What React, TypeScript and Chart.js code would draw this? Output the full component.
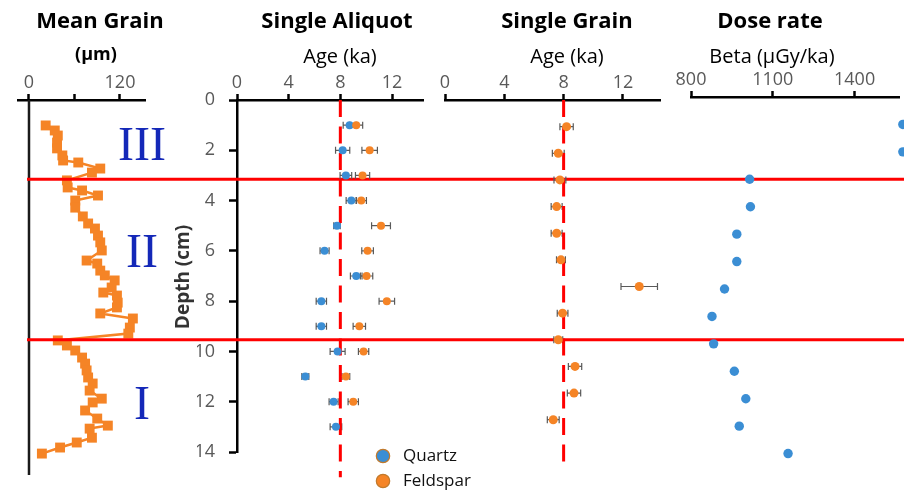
import React, { useEffect, useRef } from 'react';
import { Chart, registerables } from 'chart.js';

Chart.register(...registerables);

const FONT = '"Open Sans", Lato, "DejaVu Sans", sans-serif';
const SERIF = '"Liberation Serif", "DejaVu Serif", serif';
const CANVAS_W = 904;
const CANVAS_H = 494;

const BLUE = '#3B8ED4';
const ORANGE = '#F58426';
const RED = '#FF0000';
const ROMAN_BLUE = '#1428B8';
const TICK_GRAY = '#595959';
const ERR_GRAY = '#5A5A5A';

// ---- Mean grain (µm) vs depth (cm)
const MG_DEPTH = [1.01, 1.21, 1.41, 1.69, 1.92, 2.2, 2.4, 2.48, 2.72, 2.88, 3.19, 3.47, 3.59, 3.79, 3.99, 4.27, 4.62, 4.9, 5.1, 5.38, 5.65, 5.97, 6.37, 6.49, 6.77, 6.96, 7.16, 7.44, 7.64, 7.76, 8.04, 8.23, 8.47, 8.67, 9.03, 9.27, 9.54, 9.74, 9.94, 10.22, 10.46, 10.73, 11.01, 11.25, 11.53, 11.85, 12.0, 12.32, 12.64, 12.92, 13.04, 13.4, 13.59, 13.79, 14.03];
const MG_SIZE = [22, 34, 38, 37, 37, 44, 45, 65, 94, 83, 50, 51, 70, 91, 61, 61, 71, 78, 87, 91, 94, 96, 76, 90, 94, 100, 113, 109, 98, 116, 117, 116, 94, 137, 133, 131, 38, 50, 61, 70, 74, 76, 78, 84, 80, 96, 84, 74, 90, 104, 80, 83, 63, 41, 17];
const MG_TICKS = [0, 60, 120];
const MG_TICK_LABELS = ['0', '', '120'];

// ---- Single aliquot ages (ka)
const SA_QUARTZ_DEPTH = [1, 2, 3, 4, 5, 6, 7, 8, 9, 10, 11, 12, 13];
const SA_QUARTZ = [8.72, 8.18, 8.43, 8.85, 7.74, 6.78, 9.23, 6.53, 6.53, 7.79, 5.29, 7.48, 7.66];
const SA_QUARTZ_ERR = [0.5, 0.55, 0.45, 0.4, 0.25, 0.35, 0.45, 0.4, 0.4, 0.58, 0.27, 0.35, 0.45];
const SA_FELDSPAR_DEPTH = [1, 2, 3, 4, 5, 6, 7, 8, 9, 10, 11, 12];
const SA_FELDSPAR = [9.23, 10.27, 9.72, 9.62, 11.15, 10.11, 10.03, 11.6, 9.47, 9.8, 8.43, 9.0];
const SA_FELDSPAR_ERR = [0.5, 0.6, 0.55, 0.4, 0.73, 0.45, 0.48, 0.6, 0.48, 0.4, 0.3, 0.4];

// ---- Single grain ages (ka)
const SG_FELDSPAR_DEPTH = [1, 2, 3, 4, 5, 6, 7, 8, 9, 10, 11, 12];
const SG_FELDSPAR = [8.2, 7.64, 7.75, 7.53, 7.53, 7.82, 13.1, 7.93, 7.64, 8.77, 8.7, 7.3];
const SG_FELDSPAR_ERR = [0.45, 0.4, 0.4, 0.37, 0.37, 0.3, 1.23, 0.36, 0.3, 0.45, 0.45, 0.4];

// ---- Beta dose rate (µGy/ka)
const DR_DEPTH = [1, 2, 3, 4, 5, 6, 7, 8, 9, 10, 11, 12, 13];
const DR_BETA = [1577, 1577, 1015, 1018, 968, 968, 923, 877, 883, 959, 1001, 977, 1156];
const DR_TICKS = [800, 1100, 1400];
const DR_TICK_LABELS = ['800', '1100', '1400'];

const AGE_TICKS = [0, 4, 8, 12];
const AGE_TICK_LABELS = ['0', '4', '8', '12'];
const DEPTH_TICKS = [0, 2, 4, 6, 8, 10, 12, 14];

const REF_AGE = 8;
const REF_LINE_SA = [0, 15];
const REF_LINE_SG = [0, 13.8];
const UNIT_BOUNDARIES = [3.15, 9.54];
const UNIT_LABELS = ['III', 'II', 'I'];
const SERIES_NAMES = ['Quartz', 'Feldspar'];
const SERIES_COLORS = [BLUE, ORANGE];

type Box = { left: number; top: number; right: number; bottom: number };
const X_AXIS_H = 40;
const Y_AXIS_W = 40;
const TICK_FONT_SIZE = 18;

function xAxis(min: number, max: number, ticks: number[], labels: string[]) {
  return {
    type: 'linear',
    position: 'top',
    min,
    max,
    afterBuildTicks: (s: any) => {
      s.ticks = ticks.map((v) => ({ value: v }));
    },
    afterFit: (s: any) => {
      s.height = X_AXIS_H;
    },
    ticks: {
      autoSkip: false,
      maxRotation: 0,
      padding: 0,
      color: TICK_GRAY,
      font: { family: FONT, size: TICK_FONT_SIZE },
      callback: (_v: any, i: number) => labels[i],
    },
    grid: { drawOnChartArea: false, drawTicks: true, tickLength: 6, tickWidth: 2.5, tickColor: '#000' },
    border: { display: true, color: '#000', width: 2.5 },
  };
}

function hiddenY(max: number) {
  return { type: 'linear', display: false, reverse: true, min: 0, max };
}

function makeChart(canvas: HTMLCanvasElement, box: Box, scales: any, datasets: any[], plugins: any[], hasYAxis = false) {
  return new Chart(canvas, {
    type: 'scatter',
    data: { datasets },
    options: {
      responsive: false,
      animation: false,
      events: [],
      layout: {
        padding: {
          left: box.left - (hasYAxis ? Y_AXIS_W : 0),
          top: box.top - X_AXIS_H,
          right: CANVAS_W - box.right,
          bottom: CANVAS_H - box.bottom,
        },
      },
      plugins: { legend: { display: false }, tooltip: { enabled: false }, title: { display: false } },
      scales,
    } as any,
    plugins,
  } as any);
}

function errorBars(id: string, series: { depth: number[]; value: number[]; err: number[] }[]) {
  return {
    id,
    beforeDatasetsDraw(chart: any) {
      const { ctx, scales } = chart;
      ctx.save();
      ctx.strokeStyle = ERR_GRAY;
      ctx.lineWidth = 1.2;
      for (const s of series) {
        s.depth.forEach((d, i) => {
          const y = scales.y.getPixelForValue(d);
          const x1 = scales.x.getPixelForValue(s.value[i] - s.err[i]);
          const x2 = scales.x.getPixelForValue(s.value[i] + s.err[i]);
          ctx.beginPath();
          ctx.moveTo(x1, y);
          ctx.lineTo(x2, y);
          ctx.moveTo(x1, y - 3.5);
          ctx.lineTo(x1, y + 3.5);
          ctx.moveTo(x2, y - 3.5);
          ctx.lineTo(x2, y + 3.5);
          ctx.stroke();
        });
      }
      ctx.restore();
    },
  };
}

function refLine(depths: number[]) {
  return {
    data: depths.map((d) => ({ x: REF_AGE, y: d })),
    showLine: true,
    borderColor: RED,
    borderWidth: 3,
    borderDash: [17, 9.5],
    pointRadius: 0,
    clip: false,
    order: 5,
  };
}

function points(depth: number[], value: number[], color: string, radius: number, order: number) {
  return {
    data: depth.map((d, i) => ({ x: value[i], y: d })),
    backgroundColor: color,
    borderColor: color,
    borderWidth: 0,
    pointRadius: radius,
    clip: false,
    order,
  };
}

const mgAxisPlugin = {
  id: 'mgAxis',
  beforeDatasetsDraw(chart: any) {
    const { ctx, chartArea, scales } = chart;
    const x = scales.x.getPixelForValue(0);
    ctx.save();
    ctx.strokeStyle = '#1a1a1a';
    ctx.lineWidth = 2.5;
    ctx.beginPath();
    ctx.moveTo(x, chartArea.top);
    ctx.lineTo(x, chartArea.bottom);
    ctx.stroke();
    ctx.restore();
  },
};

const boundaryPlugin = {
  id: 'boundaries',
  beforeDatasetsDraw(chart: any) {
    const { ctx, scales } = chart;
    ctx.save();
    ctx.strokeStyle = RED;
    ctx.lineWidth = 3;
    for (const b of UNIT_BOUNDARIES) {
      const y = scales.y.getPixelForValue(b);
      ctx.beginPath();
      ctx.moveTo(27, y);
      ctx.lineTo(chart.width, y);
      ctx.stroke();
    }
    ctx.restore();
  },
};

function drawText(ctx: any, s: string, x: number, y: number, font: string, color = '#000', align = 'center', baseline = 'alphabetic') {
  ctx.font = font;
  ctx.fillStyle = color;
  ctx.textAlign = align;
  ctx.textBaseline = baseline;
  ctx.fillText(s, x, y);
}

const annotationPlugin = {
  id: 'annotations',
  afterDraw(chart: any) {
    const ctx = chart.ctx;
    ctx.save();
    const titleFont = `bold 22px ${FONT}`;
    const axisFont = `20px ${FONT}`;
    drawText(ctx, 'Mean Grain', 100, 28, titleFont);
    drawText(ctx, '(µm)', 96, 60, `bold 18px ${FONT}`);
    drawText(ctx, 'Single Aliquot', 337, 28, titleFont);
    drawText(ctx, 'Age (ka)', 340, 63, axisFont);
    drawText(ctx, 'Single Grain', 567, 28, titleFont);
    drawText(ctx, 'Age (ka)', 567, 63, axisFont);
    drawText(ctx, 'Dose rate', 770, 28, titleFont);
    drawText(ctx, 'Beta (µGy/ka)', 772, 63, axisFont);

    // roman numerals for units
    const romanY = [160, 267, 419];
    UNIT_LABELS.forEach((s, i) => drawText(ctx, s, 142, romanY[i], `48px ${SERIF}`, ROMAN_BLUE));

    // depth axis title
    ctx.save();
    ctx.translate(184, 277);
    ctx.rotate(-Math.PI / 2);
    drawText(ctx, 'Depth (cm)', 0, 0, `bold 19px ${FONT}`, '#333', 'center', 'middle');
    ctx.restore();

    // legend
    const legendY = [456, 481];
    SERIES_NAMES.forEach((name, i) => {
      ctx.beginPath();
      ctx.arc(383, legendY[i], 6.7, 0, Math.PI * 2);
      ctx.fillStyle = SERIES_COLORS[i];
      ctx.fill();
      ctx.lineWidth = 1.2;
      ctx.strokeStyle = '#C27A2C';
      ctx.stroke();
      drawText(ctx, name, 403, legendY[i], `17px ${FONT}`, '#111', 'left', 'middle');
    });
    ctx.restore();
  },
};

export default function App() {
  const mgRef = useRef<HTMLCanvasElement>(null);
  const saRef = useRef<HTMLCanvasElement>(null);
  const sgRef = useRef<HTMLCanvasElement>(null);
  const drRef = useRef<HTMLCanvasElement>(null);

  useEffect(() => {
    const charts: Chart[] = [];

    charts.push(
      makeChart(
        mgRef.current!,
        { left: 18, top: 100, right: 145, bottom: 475 },
        { x: xAxis(-14.5, 153, MG_TICKS, MG_TICK_LABELS), y: hiddenY(14.88) },
        [
          {
            data: MG_DEPTH.map((d, i) => ({ x: MG_SIZE[i], y: d })),
            showLine: true,
            borderColor: ORANGE,
            borderWidth: 2.5,
            backgroundColor: ORANGE,
            pointStyle: 'rect',
            pointRadius: 7,
            pointBorderWidth: 0,
            clip: false,
          },
        ],
        [mgAxisPlugin]
      )
    );

    charts.push(
      makeChart(
        saRef.current!,
        { left: 237, top: 100, right: 423, bottom: 452 },
        {
          x: xAxis(0, 14.4, AGE_TICKS, AGE_TICK_LABELS),
          y: {
            type: 'linear',
            position: 'left',
            reverse: true,
            min: 0,
            max: 14,
            afterBuildTicks: (s: any) => {
              s.ticks = DEPTH_TICKS.map((v) => ({ value: v }));
            },
            afterFit: (s: any) => {
              s.width = Y_AXIS_W;
            },
            ticks: { autoSkip: false, padding: 14, color: TICK_GRAY, font: { family: FONT, size: TICK_FONT_SIZE } },
            grid: { drawOnChartArea: false, drawTicks: true, tickLength: 8, tickWidth: 2.5, tickColor: '#000' },
            border: { display: true, color: '#000', width: 2.5 },
          },
        },
        [
          points(SA_QUARTZ_DEPTH, SA_QUARTZ, BLUE, 4, 2),
          points(SA_FELDSPAR_DEPTH, SA_FELDSPAR, ORANGE, 4, 1),
          refLine(REF_LINE_SA),
        ],
        [
          boundaryPlugin,
          errorBars('saErr', [
            { depth: SA_QUARTZ_DEPTH, value: SA_QUARTZ, err: SA_QUARTZ_ERR },
            { depth: SA_FELDSPAR_DEPTH, value: SA_FELDSPAR, err: SA_FELDSPAR_ERR },
          ]),
        ],
        true
      )
    );

    charts.push(
      makeChart(
        sgRef.current!,
        { left: 445, top: 100, right: 660, bottom: 473 },
        { x: xAxis(0, 14.5, AGE_TICKS, AGE_TICK_LABELS), y: hiddenY(14) },
        [points(SG_FELDSPAR_DEPTH, SG_FELDSPAR, ORANGE, 4.5, 1), refLine(REF_LINE_SG)],
        [errorBars('sgErr', [{ depth: SG_FELDSPAR_DEPTH, value: SG_FELDSPAR, err: SG_FELDSPAR_ERR }])]
      )
    );

    charts.push(
      makeChart(
        drRef.current!,
        { left: 691, top: 97, right: 904, bottom: 481 },
        { x: xAxis(800, 1564, DR_TICKS, DR_TICK_LABELS), y: hiddenY(14) },
        [points(DR_DEPTH, DR_BETA, BLUE, 4.7, 1)],
        [annotationPlugin]
      )
    );

    return () => charts.forEach((c) => c.destroy());
  }, []);

  const canvasStyle: React.CSSProperties = { position: 'absolute', left: 0, top: 0, width: CANVAS_W, height: CANVAS_H };
  return (
    <div style={{ position: 'absolute', left: 0, top: 0, width: CANVAS_W, height: CANVAS_H, background: '#fff', overflow: 'hidden' }}>
      <canvas ref={mgRef} width={CANVAS_W} height={CANVAS_H} style={canvasStyle} />
      <canvas ref={saRef} width={CANVAS_W} height={CANVAS_H} style={canvasStyle} />
      <canvas ref={sgRef} width={CANVAS_W} height={CANVAS_H} style={canvasStyle} />
      <canvas ref={drRef} width={CANVAS_W} height={CANVAS_H} style={canvasStyle} />
    </div>
  );
}
